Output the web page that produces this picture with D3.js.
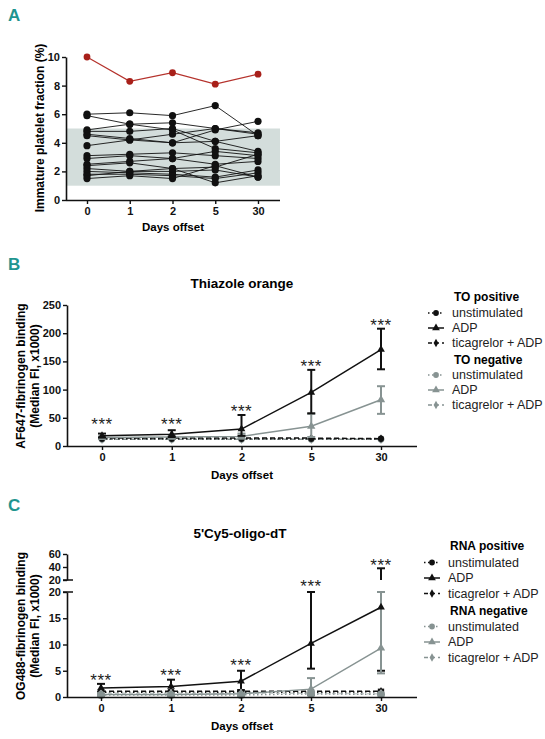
<!DOCTYPE html>
<html><head><meta charset="utf-8">
<script src="https://cdn.jsdelivr.net/npm/d3@7"></script>
<style>body{margin:0;background:#fff}svg{display:block}text{font-family:"Liberation Sans",Arial,sans-serif}</style>
</head><body>
<script>
// ---------- DATA ----------
const days = ["0","1","2","5","30"];
// Panel A: immature platelet fraction per donor
const ipfOutlier = [10, 8.3, 8.9, 8.1, 8.8];
const ipfDonors = [
  [6.0, 6.1, 5.9, 6.6, 4.5],
  [5.9, 5.3, 4.9, 3.6, 3.3],
  [4.9, 5.3, 5.4, 5.0, 4.6],
  [4.8, 4.8, 5.0, 4.1, 3.4],
  [4.6, 4.3, 4.0, 4.9, 5.5],
  [4.5, 4.2, 4.6, 5.0, 4.7],
  [3.8, 4.2, 4.0, 4.1, 4.5],
  [3.1, 3.2, 3.3, 3.1, 2.9],
  [2.9, 3.1, 2.9, 3.4, 3.1],
  [2.5, 2.7, 2.9, 2.5, 2.7],
  [2.4, 2.6, 2.2, 2.3, 3.2],
  [2.2, 2.0, 2.0, 2.1, 1.6],
  [2.0, 1.9, 1.8, 1.6, 2.1],
  [1.8, 1.8, 1.7, 1.5, 1.9],
  [1.7, 2.0, 2.2, 1.2, 1.7],
  [1.5, 1.7, 1.5, 2.4, 1.6]
];
const refRange = [1, 5];
const ticksA = [0, 2, 4, 6, 8, 10];

// Panel B: Thiazole orange (mean, lower, upper)
const toPosUnstim = [13, 13, 13, 13, 13];
const toPosADP = [18, 21, 30, 95, 171];
const toPosADPlo = [15, 16, 18, 58, 136];
const toPosADPhi = [22, 28, 55, 135, 208];
const toPosTic = [14, 14, 14, 14, 13];
const toNegUnstim = [12, 12, 12, 12, 12];
const toNegADP = [15, 16, 17, 35, 82];
const toNegADPlo = [13, 13, 13, 16, 57];
const toNegADPhi = [17, 18, 22, 57, 106];
const toNegTic = [12, 12, 12, 12, 12];
const ticksB = [0, 50, 100, 150, 200, 250];
const starsB = ["***","***","***","***","***"];

// Panel C: 5'Cy5-oligo-dT
const rnaPosUnstim = [0.9, 0.9, 0.9, 0.9, 1.0];
const rnaPosADP = [1.7, 2.0, 3.0, 10.2, 17.1];
const rnaPosADPlo = [1.0, 1.0, 1.3, 5.4, 5.0];
const rnaPosADPhi = [2.5, 3.3, 5.0, 20, 38];
const rnaPosTic = [1.1, 1.1, 1.1, 1.1, 1.1];
const rnaNegUnstim = [0.4, 0.4, 0.4, 0.6, 0.5];
const rnaNegADP = [0.5, 0.5, 0.6, 1.5, 9.3];
const rnaNegADPlo = [0.3, 0.3, 0.3, 0.3, 4.5];
const rnaNegADPhi = [0.8, 0.8, 1.0, 3.6, 20];
const rnaNegTic = [0.7, 0.7, 0.7, 0.7, 0.6];
const ticksClow = [0, 5, 10, 15, 20];
const ticksChigh = [20, 40, 60];

const legendItems = ["unstimulated", "ADP", "ticagrelor + ADP"];

// ---------- DRAW ----------
const W = 545, H = 739;
const svg = d3.select("body").append("svg").attr("width", W).attr("height", H);
const BLACK = "#111", GREY = "#879392", TEAL = "#1f9590";

function panelLetter(t, x, y) {
  svg.append("text").attr("x", x).attr("y", y).text(t)
    .attr("font-family", "'Liberation Sans Narrow','DejaVu Sans Condensed',sans-serif")
    .attr("font-weight", "bold").attr("font-size", 17).attr("fill", TEAL);
}
function styleAxis(g) {
  g.selectAll("path.domain").attr("stroke", BLACK).attr("stroke-width", 1.6);
  g.selectAll(".tick line").attr("stroke", BLACK).attr("stroke-width", 1.4);
  g.selectAll(".tick text").attr("font-size", 11).attr("font-weight", "bold").attr("fill", BLACK)
    .attr("font-family", "'Liberation Sans',Arial,sans-serif");
}
function symbol(g, type, x, y, color, size) {
  const map = {circle: d3.symbolCircle, triangle: d3.symbolTriangle, diamond: d3.symbolDiamond, square: d3.symbolSquare};
  g.append("path").attr("d", d3.symbol().type(map[type]).size(size)())
    .attr("transform", `translate(${x},${y})`).attr("fill", color);
}
function stars(x, y, t) {
  svg.append("text").attr("x", x).attr("y", y + 9).attr("text-anchor", "middle")
    .attr("font-size", 17).attr("letter-spacing", 0.5).attr("fill", "#222").text(t);
}

// ===== Panel A =====
panelLetter("A", 8, 21);
const xA = d3.scalePoint().domain(days).range([87, 258]);
const yA = d3.scaleLinear().domain([0, 10]).range([200, 57]);
svg.append("rect").attr("x", 66).attr("y", yA(refRange[1])).attr("width", 214)
  .attr("height", yA(refRange[0]) - yA(refRange[1])).attr("fill", "#d3dddb");
const lineA = d3.line().x((d, i) => xA(days[i])).y(d => yA(d));
ipfDonors.forEach(s => {
  svg.append("path").attr("d", lineA(s)).attr("fill", "none").attr("stroke", BLACK).attr("stroke-width", 0.9);
});
svg.append("path").attr("d", lineA(ipfOutlier)).attr("fill", "none").attr("stroke", "#b5322c").attr("stroke-width", 1.2);
ipfDonors.forEach(s => s.forEach((v, i) => {
  svg.append("circle").attr("cx", xA(days[i])).attr("cy", yA(v)).attr("r", 3.6).attr("fill", BLACK);
}));
ipfOutlier.forEach((v, i) => svg.append("circle").attr("cx", xA(days[i])).attr("cy", yA(v)).attr("r", 3.4).attr("fill", "#a8201a"));
const gAy = svg.append("g").attr("transform", "translate(66,0)").call(d3.axisLeft(yA).tickValues(ticksA).tickSize(4).tickPadding(2).tickSizeOuter(0));
styleAxis(gAy);
const gAx = svg.append("g").attr("transform", "translate(0,200)")
  .call(d3.axisBottom(xA).tickSize(4).tickPadding(3));
gAx.select("path.domain").attr("d", "M66,0.5H280");
styleAxis(gAx);
svg.append("text").attr("transform", "translate(44,128) rotate(-90)").attr("text-anchor", "middle")
  .attr("font-size", 12).attr("font-weight", "bold").text("Immature platelet fraction (%)");
svg.append("text").attr("x", 173).attr("y", 231).attr("text-anchor", "middle")
  .attr("font-size", 11.5).attr("font-weight", "bold").text("Days offset");

// ===== shared helpers for B and C =====
function series(g, x, yf, vals, color, dash, sym, size) {
  const ln = d3.line().x((d, i) => x(days[i])).y(d => yf(d));
  g.append("path").attr("d", ln(vals)).attr("fill", "none").attr("stroke", color)
    .attr("stroke-width", 1.5).attr("stroke-dasharray", dash);
  vals.forEach((v, i) => symbol(g, sym, x(days[i]), yf(v), color, size));
}
function errBars(g, x, yf, lo, hi, color) {
  lo.forEach((l, i) => {
    const cx = x(days[i]);
    g.append("line").attr("x1", cx).attr("x2", cx).attr("y1", yf(l)).attr("y2", yf(hi[i])).attr("stroke", color).attr("stroke-width", 2);
    [l, hi[i]].forEach(v => g.append("line").attr("x1", cx - 4).attr("x2", cx + 4).attr("y1", yf(v)).attr("y2", yf(v)).attr("stroke", color).attr("stroke-width", 2));
  });
}
function legend(x, y0, header, gap) {
  svg.append("text").attr("x", x + 2).attr("y", y0).attr("font-size", 12).attr("font-weight", "bold").text(header[0]);
  const rows = [
    {c: BLACK, dash: "1.5,2.5", sym: "circle", t: legendItems[0]},
    {c: BLACK, dash: null, sym: "triangle", t: legendItems[1]},
    {c: BLACK, dash: "4,3", sym: "diamond", t: legendItems[2]},
    null,
    {c: GREY, dash: "1.5,2.5", sym: "circle", t: legendItems[0]},
    {c: GREY, dash: null, sym: "triangle", t: legendItems[1]},
    {c: GREY, dash: "4,3", sym: "diamond", t: legendItems[2]}
  ];
  let y = y0;
  rows.forEach((r, k) => {
    if (r === null) {
      y += gap + 2;
      svg.append("text").attr("x", x + 2).attr("y", y).attr("font-size", 12).attr("font-weight", "bold").text(header[1]);
      return;
    }
    y += gap + (k === 0 ? 1 : 0);
    const yy = y - 4;
    svg.append("line").attr("x1", x - 24).attr("x2", x - 8).attr("y1", yy).attr("y2", yy)
      .attr("stroke", r.c).attr("stroke-width", 1.5).attr("stroke-dasharray", r.dash);
    symbol(svg, r.sym, x - 16, yy, r.c, r.sym === "diamond" ? 20 : 26);
    svg.append("text").attr("x", x).attr("y", y).attr("font-size", 12.5).attr("fill", "#222").text(r.t);
  });
}

// ===== Panel B =====
panelLetter("B", 8, 270);
svg.append("text").attr("x", 242).attr("y", 288).attr("text-anchor", "middle").attr("font-size", 13.5).attr("font-weight", "bold").text("Thiazole orange");
const xB = d3.scalePoint().domain(days).range([102, 381]);
const yB = d3.scaleLinear().domain([0, 250]).range([446, 305]);
const gB = svg.append("g");
series(gB, xB, yB, toNegUnstim, GREY, "1.5,2.5", "circle", 36);
series(gB, xB, yB, toNegTic, GREY, "4,3", "diamond", 26);
series(gB, xB, yB, toPosUnstim, BLACK, "1.5,2.5", "circle", 30);
series(gB, xB, yB, toPosTic, BLACK, "5,3", "diamond", 20);
errBars(gB, xB, yB, toNegADPlo, toNegADPhi, GREY);
series(gB, xB, yB, toNegADP, GREY, null, "triangle", 30);
errBars(gB, xB, yB, toPosADPlo, toPosADPhi, BLACK);
series(gB, xB, yB, toPosADP, BLACK, null, "triangle", 26);
const starYB = [421, 421, 408, 363, 322];
starsB.forEach((s, i) => stars(xB(days[i]), starYB[i], s));
const gBy = svg.append("g").attr("transform", "translate(67,0)").call(d3.axisLeft(yB).tickValues(ticksB).tickSize(4).tickPadding(2).tickSizeOuter(0));
styleAxis(gBy);
const gBx = svg.append("g").attr("transform", "translate(0,446)").call(d3.axisBottom(xB).tickSize(4).tickPadding(3));
gBx.select("path.domain").attr("d", "M67,0.5H417");
styleAxis(gBx);
svg.append("text").attr("transform", "translate(0,376) rotate(-90)").attr("text-anchor", "middle").attr("font-size", 12).attr("font-weight", "bold")
  .selectAll("tspan").data(["AF647-fibrinogen binding", "(Median FI, x1000)"]).join("tspan")
  .attr("x", 0).attr("y", (d, i) => 25 + i * 14).text(d => d);
svg.append("text").attr("x", 242).attr("y", 479).attr("text-anchor", "middle").attr("font-size", 11.5).attr("font-weight", "bold").text("Days offset");
legend(452, 301, ["TO positive", "TO negative"], 15);

// ===== Panel C (broken axis) =====
panelLetter("C", 8, 511);
svg.append("text").attr("x", 240).attr("y", 538).attr("text-anchor", "middle").attr("font-size", 13.5).attr("font-weight", "bold").text("5'Cy5-oligo-dT");
const xC = d3.scalePoint().domain(days).range([101, 381]);
const yClow = d3.scaleLinear().domain([0, 20]).range([697, 592]);
const yChigh = d3.scaleLinear().domain([20, 60]).range([580, 554]);
const yC = v => (v <= 20 ? yClow(v) : yChigh(v));
const gC = svg.append("g");
function errBarsC(lo, hi, color) {
  lo.forEach((l, i) => {
    const cx = xC(days[i]), h = hi[i];
    gC.append("line").attr("x1", cx).attr("x2", cx).attr("y1", yClow(l)).attr("y2", yClow(Math.min(h, 20))).attr("stroke", color).attr("stroke-width", 2);
    if (h > 20) gC.append("line").attr("x1", cx).attr("x2", cx).attr("y1", yChigh(20)).attr("y2", yChigh(h)).attr("stroke", color).attr("stroke-width", 2);
    [l, h].forEach(v => gC.append("line").attr("x1", cx - 4).attr("x2", cx + 4).attr("y1", yC(v)).attr("y2", yC(v)).attr("stroke", color).attr("stroke-width", 2));
  });
}
errBarsC(rnaPosADPlo, rnaPosADPhi, BLACK);
errBarsC(rnaNegADPlo, rnaNegADPhi, GREY);
series(gC, xC, yC, rnaPosUnstim, BLACK, "1.5,2.5", "square", 40);
series(gC, xC, yC, rnaPosTic, BLACK, "5,3", "diamond", 20);
series(gC, xC, yC, rnaNegTic, "#c9cfce", "4,3", "diamond", 26);
series(gC, xC, yC, rnaNegUnstim, GREY, "1.5,2.5", "circle", 50);
series(gC, xC, yC, rnaPosADP, BLACK, null, "triangle", 26);
series(gC, xC, yC, rnaNegADP, GREY, null, "triangle", 30);
const starYC = [677, 672, 662, 583, 562];
starsB.forEach((s, i) => stars(xC(days[i]), starYC[i], s));
const gCyl = svg.append("g").attr("transform", "translate(67,0)").call(d3.axisLeft(yClow).tickValues(ticksClow).tickSize(4).tickPadding(2).tickSizeOuter(0));
styleAxis(gCyl);
const gCyh = svg.append("g").attr("transform", "translate(67,0)").call(d3.axisLeft(yChigh).tickValues(ticksChigh).tickSize(4).tickPadding(2).tickSizeOuter(0));
styleAxis(gCyh);
[yChigh(20), yClow(20)].forEach(y => svg.append("line").attr("x1", 63).attr("x2", 73).attr("y1", y).attr("y2", y).attr("stroke", BLACK).attr("stroke-width", 1.5));
const gCx = svg.append("g").attr("transform", "translate(0,697)").call(d3.axisBottom(xC).tickSize(4).tickPadding(3));
gCx.select("path.domain").attr("d", "M67,0.5H417");
styleAxis(gCx);
svg.append("text").attr("transform", "translate(0,626) rotate(-90)").attr("text-anchor", "middle").attr("font-size", 12).attr("font-weight", "bold")
  .selectAll("tspan").data(["OG488-fibrinogen binding", "(Median FI, x1000)"]).join("tspan")
  .attr("x", 0).attr("y", (d, i) => 25 + i * 14).text(d => d);
svg.append("text").attr("x", 242).attr("y", 730).attr("text-anchor", "middle").attr("font-size", 11.5).attr("font-weight", "bold").text("Days offset");
legend(448, 550, ["RNA positive", "RNA negative"], 15.5);
</script>
</body></html>
